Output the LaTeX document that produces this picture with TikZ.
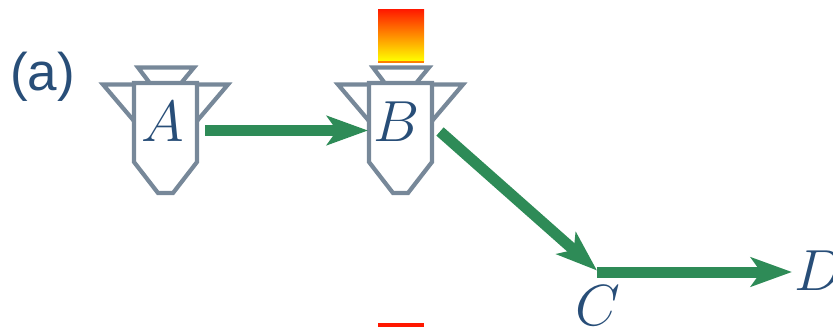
\documentclass[tikz,border=0pt]{standalone}
\usepackage{fix-cm}
\usepackage{fontspec}
\setmainfont{Liberation Sans}
\usetikzlibrary{arrows.meta}
\definecolor{labelblue}{RGB}{40,78,120}
\definecolor{flowgreen}{RGB}{46,139,87}
\definecolor{coolgrey}{RGB}{119,136,153}
\definecolor{hotred}{RGB}{255,24,0}
\definecolor{hotyellow}{RGB}{255,255,0}
\tikzset{
  x=1pt,y=-1pt,
  flow/.style={draw=flowgreen,line width=11pt,-{Stealth[length=41pt,width=29pt,inset=10pt,fill=flowgreen]}},
  vessel/.style={draw=coolgrey,line width=4.2pt,line join=miter,fill=none},
  mathlabel/.style={text=labelblue,inner sep=0pt,anchor=base,font=\fontsize{58}{60}\selectfont},
  burner/.style={top color=hotred,bottom color=hotyellow,draw=none},
}
\newcommand{\vesselshape}[1]{%
  \begin{scope}[shift={(#1,0)}]
    \draw[vessel] (134,83) -- (197,83) -- (197,162) -- (173,193) -- (158,193) -- (134,162) -- cycle;
    \draw[vessel] (149,82) -- (138,67.5) -- (194,67.5) -- (182,82);
    \draw[vessel] (134,84.5) -- (103,84.5) -- (134,121);
    \draw[vessel] (197,84.5) -- (228,84.5) -- (197,121);
  \end{scope}}
\begin{document}
\begin{tikzpicture}
\useasboundingbox (0,0) rectangle (833,327);
\clip (0,0) rectangle (833,327);
\vesselshape{0}
\vesselshape{235}
\fill[burner] (378,9) rectangle (424,61);
\fill[orange] (378,61) rectangle (424,63);
\fill[hotred] (378,323) rectangle (424,327);
\node[text=labelblue,inner sep=0pt,anchor=base west,font=\fontsize{53}{56}\selectfont] (panel) at (10,90) {(a)};
\node[mathlabel] (A) at (163,141) {$A$};
\node[mathlabel] (B) at (397,141) {$B$};
\node[mathlabel] (C) at (598,325) {$C$};
\node[mathlabel,anchor=base west] (D) at (794,290) {$D$};
\coordinate (a1) at (205,130.5);
\coordinate (b1) at (368,130.5);
\coordinate (b2) at (440,131.5);
\coordinate (c1) at (597,270.5);
\coordinate (c2) at (597,272);
\coordinate (d1) at (792,272);
\draw[flow] (a1) -- (b1);
\draw[flow] (b2) -- (c1);
\draw[flow] (c2) -- (d1);
\end{tikzpicture}
\end{document}
